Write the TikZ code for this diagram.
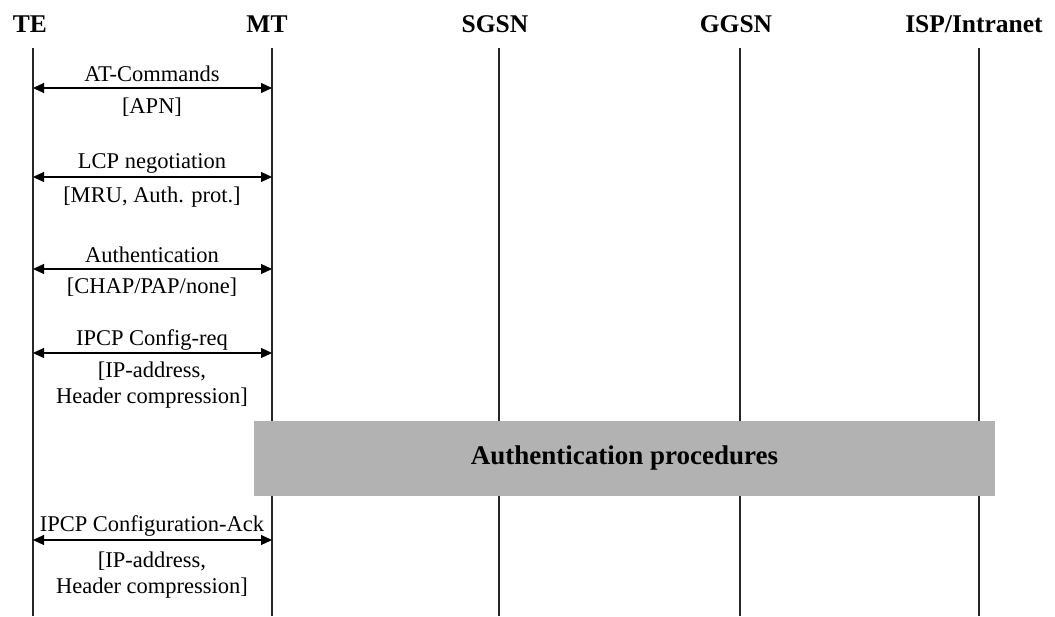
\documentclass[tikz,border=0pt]{standalone}
\usepackage{fontspec}
\setmainfont{Liberation Serif}
\usetikzlibrary{arrows.meta}
\begin{document}
\begin{tikzpicture}[x=1pt,y=-1pt,
  hdr/.style={font=\fontsize{25.5}{28}\selectfont\bfseries, anchor=base},
  lbl/.style={font=\fontsize{22.5}{25.5}\selectfont, align=center, inner sep=0pt},
  life/.style={line width=1.2pt, draw=black!85},
  msg/.style={line width=1.1pt, {Triangle[length=11pt,width=10pt]}-{Triangle[length=11pt,width=10pt]}},
  procbox/.style={fill=black!30, draw=none, minimum width=741pt, minimum height=75pt, inner sep=0pt, font=\fontsize{27}{30}\selectfont\bfseries}]
\useasboundingbox (0,0) rectangle (1055,616);
% headers
\node[hdr] (te) at (30,32) {TE};
\node[hdr] (mt) at (267,32) {MT};
\node[hdr] (sgsn) at (495,32) {SGSN};
\node[hdr] (ggsn) at (736,32) {GGSN};
\node[hdr] (isp) at (974,32) {ISP/Intranet};
% lifeline endpoints
\foreach \n/\x in {te/33,mt/272,sgsn/499,ggsn/740,isp/979}{
  \coordinate (\n top) at (\x,48);
  \coordinate (\n bot) at (\x,616);
  \draw[life] (\n top) -- (\n bot);
}
% message endpoints
\foreach \i/\y in {1/88,2/177,3/269,4/353,5/540}{
  \coordinate (l\i) at (33,\y);
  \coordinate (r\i) at (272,\y);
  \draw[msg] (l\i) -- (r\i);
}
\node[lbl] (m1a) at (152,74) {AT-Commands};
\node[lbl] (m1b) at (152,107) {[APN]};
\node[lbl] (m2a) at (152,163) {LCP negotiation};
\node[lbl] (m2b) at (152,197) {[MRU, Auth. prot.]};
\node[lbl] (m3a) at (152,255) {Authentication};
\node[lbl] (m3b) at (152,287) {[CHAP/PAP/none]};
\node[lbl] (m4a) at (152,340) {IPCP Config-req};
\node[lbl] (m4b) at (152,385) {[IP-address,\\Header compression]};
\node[lbl] (m5a) at (152,526) {IPCP Configuration-Ack};
\node[lbl] (m5b) at (152,575) {[IP-address,\\Header compression]};
% authentication procedures box
\node[procbox] (auth) at (624.5,458) {Authentication procedures};
\end{tikzpicture}
\end{document}
